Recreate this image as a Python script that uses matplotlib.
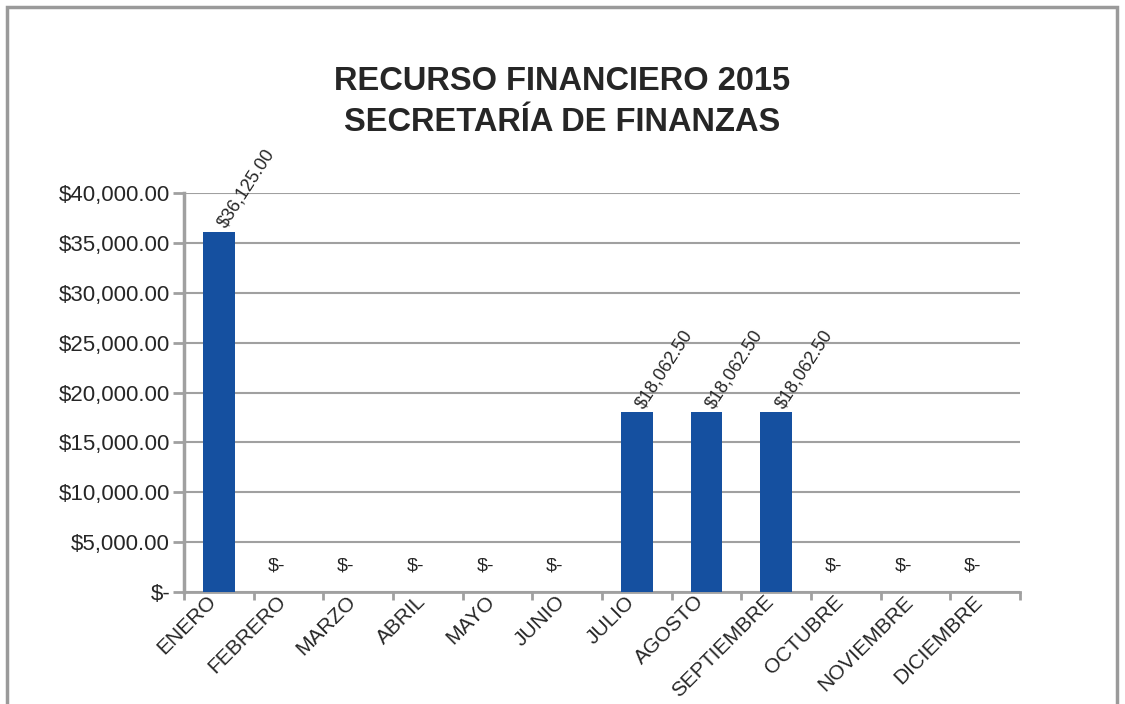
import numpy as np
import matplotlib
matplotlib.use('Agg')
import matplotlib.pyplot as plt
from matplotlib.patches import Rectangle
from matplotlib.transforms import ScaledTranslation

# datos del grafico
meses = ['ENERO', 'FEBRERO', 'MARZO', 'ABRIL', 'MAYO', 'JUNIO', 'JULIO',
         'AGOSTO', 'SEPTIEMBRE', 'OCTUBRE', 'NOVIEMBRE', 'DICIEMBRE']
montos = [36125.00, 0, 0, 0, 0, 0, 18062.50, 18062.50, 18062.50, 0, 0, 0]
titulo = 'RECURSO FINANCIERO 2015\nSECRETARÍA DE FINANZAS'

plt.rcParams['font.family'] = ['Liberation Sans', 'DejaVu Sans']

fig = plt.figure(figsize=(11.25, 7.04), dpi=100)
W, H = 1125, 704

# marco gris alrededor de la figura
fig.patches.append(Rectangle((7 / W, -0.05), 1110 / W, 1.05 - 7 / H,
                             transform=fig.transFigure, fill=False,
                             edgecolor='#9a9a9a', linewidth=2.5))

ax = fig.add_axes([184 / W, 1 - 592 / H, (1020 - 184) / W, (592 - 193) / H])

x = np.arange(len(meses))
ax.bar(x, montos, width=0.45, color='#1550a0', zorder=3)

ax.set_xlim(-0.5, len(meses) - 0.5)
ax.set_ylim(0, 40000)
ax.set_yticks(np.arange(0, 40001, 5000))

def fmt(v):
    if v == 0:
        return '$-'
    return '${:,.2f}'.format(v)

ax.set_yticklabels([fmt(v) for v in ax.get_yticks()], fontsize=16, color='#262626')

# etiquetas de meses a mano, giradas 45 grados
ax.set_xticks(x)
ax.set_xticklabels([])
desplaza = ScaledTranslation(-12 / 100, 0, fig.dpi_scale_trans)
for xi, m in zip(x, meses):
    ax.text(xi, 0, m, transform=ax.get_xaxis_transform() + desplaza,
            rotation=45, ha='right', va='top', rotation_mode='anchor',
            fontsize=15, color='#262626')

ax.set_xticks(np.arange(-0.5, len(meses)), minor=True)
ax.tick_params(axis='x', which='major', length=0)
ax.tick_params(axis='x', which='minor', length=6, width=2, color='#a0a0a0')
ax.tick_params(axis='y', length=8, width=2, color='#a0a0a0', pad=2)

ax.grid(axis='y', color='#a0a0a0', linewidth=1.5, zorder=0)
for s in ['top', 'right']:
    ax.spines[s].set_visible(False)
ax.spines['left'].set_color('#a0a0a0')
ax.spines['left'].set_linewidth(2.5)
ax.spines['bottom'].set_color('#a0a0a0')
ax.spines['bottom'].set_linewidth(2)

# etiquetas de datos
for xi, v in zip(x, montos):
    if v == 0:
        ax.text(xi - 0.05, 1800, fmt(v), ha='right', va='bottom', fontsize=14,
                color='#262626')
    else:
        ax.text(xi + 0.05, v + 500, fmt(v), rotation=57, ha='left', va='center',
                rotation_mode='anchor', fontsize=13, color='#262626')

fig.text(0.5, 1 - 102 / H, titulo, ha='center', va='center', fontsize=23.5,
         fontweight='bold', color='#262626', linespacing=1.45)

fig.savefig('out.png', dpi=100)
